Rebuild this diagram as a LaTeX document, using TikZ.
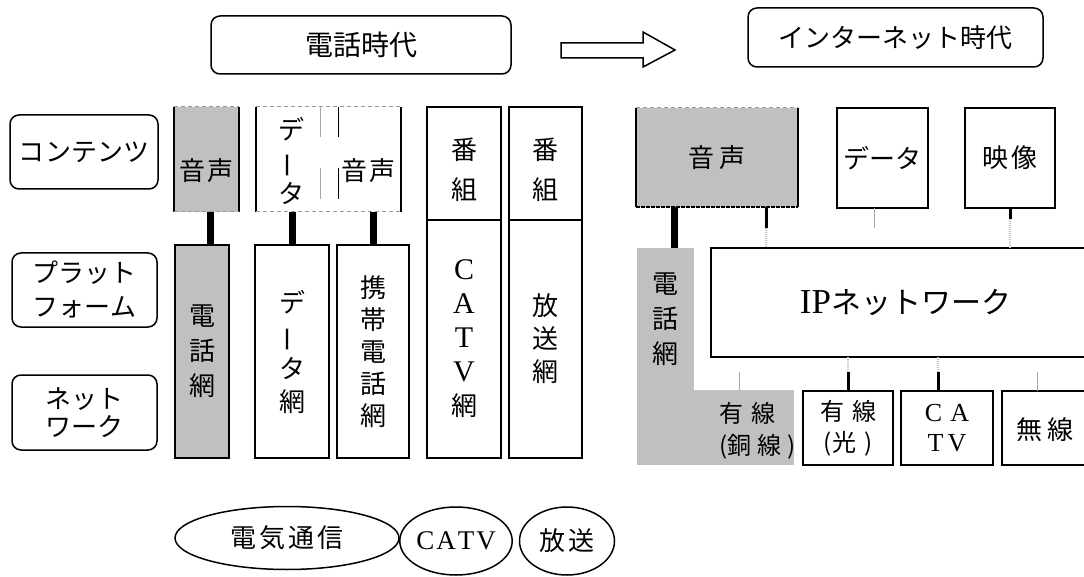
\documentclass[tikz,border=0pt]{standalone}
\usepackage{fontspec}
\setmainfont{Liberation Serif}
\newfontfamily\jp{Noto Sans CJK JP}
\usetikzlibrary{shapes.geometric,calc}
\definecolor{grayfill}{HTML}{C0C0C0}
\newcommand\fs[2]{\fontsize{#1}{#2}\selectfont}
\newcommand\ltn[1]{{\rmfamily\fs{30}{34}#1}}
\newcommand\vbar{\rotatebox[origin=c]{90}{ー}}
% box node by corners: style, name, x1, y1, x2, y2, text
\newcommand\bnode[7]{\node[#1, minimum width={(#5)-(#3)}, minimum height={(#6)-(#4)}] (#2) at ({((#3)+(#5))/2},{((#4)+(#6))/2}) {#7};}
\tikzset{
 every node/.style={inner sep=0pt, outer sep=0pt},
 lbl/.style={draw, line width=1.5pt, rounded corners=9pt, font=\jp\fs{26}{34}, align=center},
 bx/.style={draw, line width=1.5pt, font=\jp\fs{26}{34}, align=center},
 gfill/.style={fill=grayfill, draw=none, font=\jp\fs{26}{35}, align=center},
 plain/.style={draw=none},
 txt/.style={font=\jp\fs{26}{34}, align=center},
 ell/.style={draw, ellipse, line width=1.5pt, font=\jp\fs{26}{30}},
 side/.style={line width=1.5pt},
 dashedge/.style={line width=1pt, draw=black!40, dash pattern=on 4pt off 3pt},
 densedge/.style={line width=1.5pt, dash pattern=on 4pt off 1pt},
 thickconn/.style={line width=7pt},
 thinconn/.style={line width=3pt},
 hairconn/.style={line width=0.8pt, draw=black!35},
 dotconn/.style={line width=2pt, draw=black!25, dash pattern=on 1pt off 1pt},
}
\begin{document}
\begin{tikzpicture}[x=1pt,y=-1pt]
\useasboundingbox (0,0) rectangle (1084,577);
\clip (0,0) rectangle (1084,577);
% ---- titles
\bnode{lbl, font=\jp\fs{28}{34}}{era1}{211}{16}{511}{74}{電話時代}
\draw[line width=1.5pt] (561,43) -- (643,43) -- (643,32) -- (675,50) -- (643,67) -- (643,58) -- (561,58) -- cycle;
\bnode{lbl}{era2}{748}{8}{1043}{67}{インターネット時代}
% ---- row labels
\bnode{lbl}{lc}{10}{115}{158}{189}{コンテンツ}
\bnode{lbl}{lp}{12}{253}{157}{327}{プラット\\フォーム}
\bnode{lbl, font=\jp\fs{26}{28}}{ln}{12}{375}{157}{450}{ネット\\ワーク}
% ---- telephone era: contents
\bnode{gfill}{v1}{174}{107}{239}{212}{}
\draw[side] (v1.north west) -- (v1.south west) (v1.north east) -- (v1.south east);
\draw[dashedge] (v1.north west) -- (v1.north east) (v1.south west) -- (v1.south east);
\node[txt] (v1t) at (206.5,171) {音\hspace{3pt}声};
\bnode{plain}{dv}{256}{107}{401}{212}{}
\draw[side] (dv.north west) -- (dv.south west) (dv.north east) -- (dv.south east);
\draw[dashedge] (dv.north west) -- (dv.north east) (dv.south west) -- (dv.south east);
\draw[hairconn] (320,107) -- (320,137) (320,168) -- (320,199);
\draw[line width=0.8pt] (338,107) -- (338,137) (338,168) -- (338,199);
\node[txt, font=\jp\fs{26}{32}] (dvt) at (291.5,161) {デ\\\vbar\\タ};
\node[txt] (dvv) at (368.5,171) {音\hspace{3pt}声};
% ---- telephone era: networks
\bnode{bx, fill=grayfill, font=\jp\fs{26}{35}}{tn}{175}{245}{229}{458}{電\\話\\網}
\bnode{bx, font=\jp\fs{26}{33}}{dn}{255}{245}{329}{458}{デ\\\vbar\\タ\\網}
\bnode{bx, font=\jp\fs{26}{32}}{mn}{337}{245}{409}{458}{携\\帯\\電\\話\\網}
\draw[thickconn] ([xshift=8pt]tn.north) -- ([xshift=8pt]tn.north |- v1.south);
\draw[thickconn] (dn.north) -- (dn.north |- dv.south);
\draw[thickconn] (mn.north) -- (mn.north |- dv.south);
% ---- broadcast columns
\bnode{bx}{p1}{427}{107}{501}{220}{}
\node[txt, font=\jp\fs{26}{40}] (p1t) at (464,170) {番\\組};
\bnode{bx}{cn}{427}{220}{501}{458}{\ltn{C}\\\ltn{A}\\\ltn{T}\\\ltn{V}\\網}
\bnode{bx}{p2}{509}{107}{582}{220}{}
\node[txt, font=\jp\fs{26}{40}] (p2t) at (545.5,170) {番\\組};
\bnode{bx, font=\jp\fs{26}{33}}{bn}{509}{220}{582}{458}{放\\送\\網}
% ---- internet era
\bnode{gfill}{rv}{636}{108}{798}{207}{音\hspace{5pt}声}
\draw[side] (rv.north west) -- (rv.south west) (rv.north east) -- (rv.south east);
\draw[dashedge] (rv.north west) -- (rv.north east);
\draw[densedge] (rv.south west) -- (rv.south east);
\bnode{bx}{rd}{837}{108}{928}{208}{データ}
\bnode{bx}{vid}{965}{108}{1055}{208}{映\hspace{4pt}像}
\bnode{gfill}{rt}{637}{248}{694}{390}{電\\話\\網}
\bnode{gfill}{cu}{637}{390}{794}{465}{}
\node[txt, font=\jp\fs{24}{32}, align=left] (cut) at (757.5,431) {有\hspace{8pt}線\\(銅\hspace{6pt}線\hspace{6pt})};
\bnode{bx}{ip}{711}{248}{1100}{357}{{\rmfamily\fs{35}{36}IP}{\jp\fs{30}{36}ネットワーク}}
\bnode{bx, font=\jp\fs{24}{31}}{fb}{803}{391}{893}{465}{有\hspace{8pt}線\\(光\hspace{8pt})}
\bnode{bx, font=\rmfamily\fs{26}{30}}{cb}{901}{391}{993}{465}{C\hspace{8pt}A\\T\hspace{4pt}V}
\bnode{bx}{wl}{1002}{391}{1100}{465}{}
\node[txt] (wlt) at (1045,430) {無\hspace{6pt}線};
% ---- internet era connectors
\draw[thickconn] ([xshift=8.5pt]rt.north) -- ([xshift=8.5pt]rt.north |- rv.south);
\coordinate (a) at (766,228);
\draw[thinconn] (rv.south -| a) -- (a);
\draw[dotconn] (a) -- (a |- ip.north);
\coordinate (b) at (874,228);
\draw[hairconn] (rd.south -| b) -- (b);
\coordinate (c) at (1010,219);
\draw[thinconn] (vid.south -| c) -- (c);
\draw[dotconn] (c) -- (c |- ip.north);
\coordinate (d) at (739,372);
\draw[hairconn] (d) -- (d |- cu.north);
\coordinate (e) at (848,372);
\draw[dotconn] (e |- ip.south) -- (e);
\draw[thinconn] (e) -- (e |- fb.north);
\coordinate (f) at (938,372);
\draw[dotconn] (f |- ip.south) -- (f);
\draw[thinconn] (f) -- (f |- cb.north);
\coordinate (g) at (1037,372);
\draw[hairconn] (g) -- (g |- wl.north);
% ---- bottom ellipses
\node[ell, minimum width=224pt, minimum height=63pt] (tc) at (287,538) {電\hspace{3pt}気\hspace{3pt}通\hspace{3pt}信};
\node[ell, minimum width=94pt, minimum height=68pt, font=\rmfamily\fs{27}{30}] (ce) at (456,541) {C\hspace{2pt}A\hspace{2pt}T\hspace{2pt}V};
\node[ell, minimum width=95pt, minimum height=68pt] (be) at (567,541) {放\hspace{4pt}送};
\end{tikzpicture}
\end{document}
